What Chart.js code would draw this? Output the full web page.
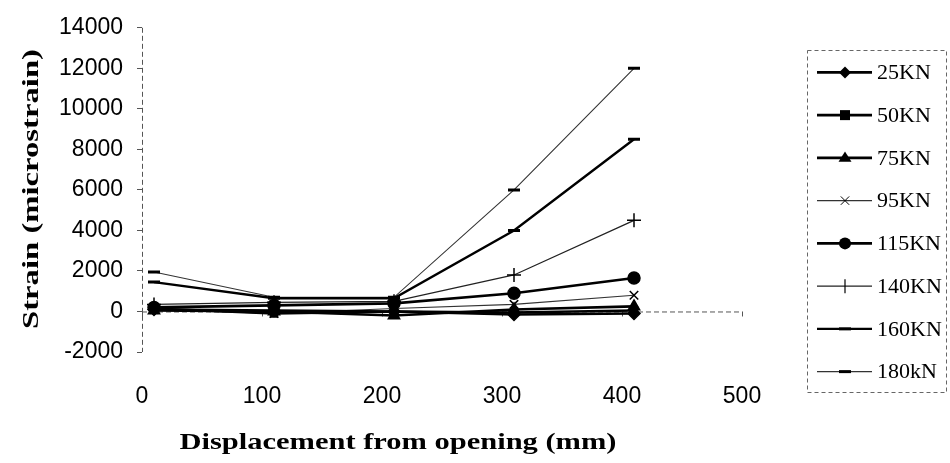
<!DOCTYPE html>
<html>
<head>
<meta charset="utf-8">
<script src="https://cdn.jsdelivr.net/npm/chart.js@4.4.0/dist/chart.umd.min.js"></script>
<style>
  html, body { margin: 0; padding: 0; background: #fff; }
  #wrap { width: 950px; height: 463px; position: relative; }
</style>
</head>
<body>
<div id="wrap"><canvas id="chart" width="950" height="463"></canvas></div>
<script>
// positions along the plate (mm) where the gauges sit
const displacement = [10, 110, 210, 310, 410];

// strain readings (microstrain) per load step
const load25 = [100, 50, 0, -150, -100];
const load50 = [150, -100, 0, -50, 50];
const load75 = [50, 0, -200, 100, 250];
const load95 = [100, -100, 150, 350, 800];
const load115 = [200, 300, 400, 900, 1650];
const load140 = [350, 450, 500, 1800, 4500];
const load160 = [1450, 650, 650, 4000, 8500];
const load180 = [1950, 700, 700, 6000, 12000];

const seriesNames = ['25KN', '50KN', '75KN', '95KN', '115KN', '140KN', '160KN', '180kN'];
const seriesValues = [load25, load50, load75, load95, load115, load140, load160, load180];

const xTicks = [0, 100, 200, 300, 400, 500];
const yTicks = [-2000, 0, 2000, 4000, 6000, 8000, 10000, 12000, 14000];

const xTitle = 'Displacement from opening (mm)';
const yTitle = 'Strain (microstrain)';

// look of each series: marker, marker size, line weight
const styles = [
    { point: 'rectRot', r: 6, w: 2.6, color: '#000' },
    { point: 'rect', r: 5, w: 2.6, color: '#000' },
    { point: 'triangle', r: 6.5, w: 2.6, color: '#000' },
    { point: 'crossRot', r: 6, w: 1.1, color: '#333' },
    { point: 'circle', r: 6, w: 2.6, color: '#000' },
    { point: 'cross', r: 7, w: 1.3, color: '#222' },
    { point: 'line', r: 6, w: 2.4, color: '#000' },
    { point: 'line', r: 6, w: 1.1, color: '#333' }
];

const datasets = seriesNames.map((name, i) => ({
    label: name,
    data: displacement.map((x, j) => ({ x: x, y: seriesValues[i][j] })),
    borderColor: styles[i].color,
    backgroundColor: styles[i].color,
    borderWidth: styles[i].w,
    pointStyle: styles[i].point,
    pointRadius: styles[i].r,
    pointBorderWidth: (styles[i].point === 'line') ? 3 : 1.5,
    pointBorderColor: '#000',
    pointBackgroundColor: '#000',
    tension: 0
}));

// draws one legend marker by hand
function drawMarker(ctx, style, x, y) {
    const r = style.r;
    ctx.save();
    ctx.fillStyle = '#000';
    ctx.strokeStyle = '#000';
    ctx.lineWidth = 1.5;
    ctx.beginPath();
    if (style.point === 'rectRot') {
        ctx.moveTo(x, y - r); ctx.lineTo(x + r, y); ctx.lineTo(x, y + r); ctx.lineTo(x - r, y); ctx.closePath(); ctx.fill();
    } else if (style.point === 'rect') {
        ctx.rect(x - r, y - r, 2 * r, 2 * r); ctx.fill();
    } else if (style.point === 'triangle') {
        ctx.moveTo(x, y - r); ctx.lineTo(x + r, y + r * 0.6); ctx.lineTo(x - r, y + r * 0.6); ctx.closePath(); ctx.fill();
    } else if (style.point === 'circle') {
        ctx.arc(x, y, r, 0, Math.PI * 2); ctx.fill();
    } else if (style.point === 'crossRot') {
        ctx.lineWidth = 1;
        ctx.moveTo(x - r * 0.7, y - r * 0.7); ctx.lineTo(x + r * 0.7, y + r * 0.7);
        ctx.moveTo(x + r * 0.7, y - r * 0.7); ctx.lineTo(x - r * 0.7, y + r * 0.7); ctx.stroke();
    } else if (style.point === 'cross') {
        ctx.lineWidth = 1.2;
        ctx.moveTo(x, y - r); ctx.lineTo(x, y + r); ctx.stroke();
    } else if (style.point === 'line') {
        ctx.lineWidth = 3;
        ctx.moveTo(x - r, y); ctx.lineTo(x + r, y); ctx.stroke();
    }
    ctx.restore();
}

// draws a string centred at (cx, cy), squeezed or stretched to a given length
function fitText(ctx, text, cx, cy, length, angle) {
    ctx.save();
    ctx.translate(cx, cy);
    ctx.rotate(angle);
    const k = length / ctx.measureText(text).width;
    ctx.scale(k, 1);
    ctx.fillText(text, 0, 0);
    ctx.restore();
}

const excelLook = {
    id: 'excelLook',
    beforeDatasetsDraw(chart) {
        const { ctx, chartArea, scales } = chart;
        const x = scales.x, y = scales.y;
        const y0 = y.getPixelForValue(0);
        ctx.save();
        ctx.strokeStyle = '#555';
        ctx.lineWidth = 1;
        ctx.setLineDash([5, 3]);
        // value axis
        ctx.beginPath();
        ctx.moveTo(chartArea.left + 0.5, chartArea.top);
        ctx.lineTo(chartArea.left + 0.5, chartArea.bottom);
        ctx.stroke();
        // category axis crossing at zero
        ctx.beginPath();
        ctx.moveTo(chartArea.left, y0 + 0.5);
        ctx.lineTo(x.getPixelForValue(500), y0 + 0.5);
        ctx.stroke();
        ctx.setLineDash([]);
        // small tick marks below the zero line
        xTicks.forEach(v => {
            const px = Math.round(x.getPixelForValue(v)) + 0.5;
            ctx.beginPath();
            ctx.moveTo(px, y0);
            ctx.lineTo(px, y0 + 5);
            ctx.stroke();
        });
        ctx.restore();
    },
    afterDraw(chart) {
        const { ctx } = chart;
        ctx.save();
        // axis titles
        ctx.fillStyle = '#000';
        ctx.font = 'bold 24px "Liberation Serif", "Times New Roman", serif';
        ctx.textAlign = 'center';
        ctx.textBaseline = 'middle';
        fitText(ctx, yTitle, 32, 189, 280, -Math.PI / 2);
        ctx.font = 'bold 23px "Liberation Serif", "Times New Roman", serif';
        fitText(ctx, xTitle, 398, 443, 437, 0);

        // legend box
        const L = 807, T = 50, R = 946, B = 392;
        ctx.strokeStyle = '#666';
        ctx.lineWidth = 1;
        ctx.setLineDash([4, 3]);
        ctx.strokeRect(L + 0.5, T + 0.5, R - L, B - T);
        ctx.setLineDash([]);
        const rowH = (B - T) / seriesNames.length;
        ctx.font = '22px "Liberation Serif", "Times New Roman", serif';
        ctx.textAlign = 'left';
        seriesNames.forEach((name, i) => {
            const cy = T + rowH * (i + 0.5) + 1;
            ctx.strokeStyle = styles[i].color;
            ctx.lineWidth = styles[i].w;
            ctx.beginPath();
            ctx.moveTo(817, cy);
            ctx.lineTo(872, cy);
            ctx.stroke();
            drawMarker(ctx, styles[i], 845, cy);
            ctx.fillStyle = '#000';
            ctx.fillText(name, 877, cy + 1);
        });
        ctx.restore();
    }
};

new Chart(document.getElementById('chart'), {
    type: 'line',
    data: { datasets: datasets },
    options: {
        responsive: false,
        animation: false,
        layout: { padding: { left: 0, top: 20, right: 208, bottom: 0 } },
        plugins: {
            legend: { display: false },
            tooltip: { enabled: false }
        },
        scales: {
            x: {
                type: 'linear',
                min: 0,
                max: 500,
                afterFit(scale) { scale.height = 111; },
                afterBuildTicks(scale) { scale.ticks = xTicks.map(v => ({ value: v })); },
                grid: { display: false },
                border: { display: false },
                ticks: {
                    padding: 23,
                    color: '#000',
                    font: { family: '"Liberation Sans", Arial, sans-serif', size: 23 },
                    maxRotation: 0,
                    callback: v => String(v)
                }
            },
            y: {
                min: -2000,
                max: 14000,
                afterFit(scale) { scale.width = 142; },
                afterBuildTicks(scale) { scale.ticks = yTicks.map(v => ({ value: v })); },
                grid: {
                    drawOnChartArea: false,
                    drawTicks: true,
                    tickLength: 5,
                    tickColor: '#555'
                },
                border: { display: false },
                ticks: {
                    padding: 14,
                    color: '#000',
                    font: { family: '"Liberation Sans", Arial, sans-serif', size: 23 },
                    callback: v => String(v)
                }
            }
        }
    },
    plugins: [excelLook]
});
</script>
</body>
</html>
